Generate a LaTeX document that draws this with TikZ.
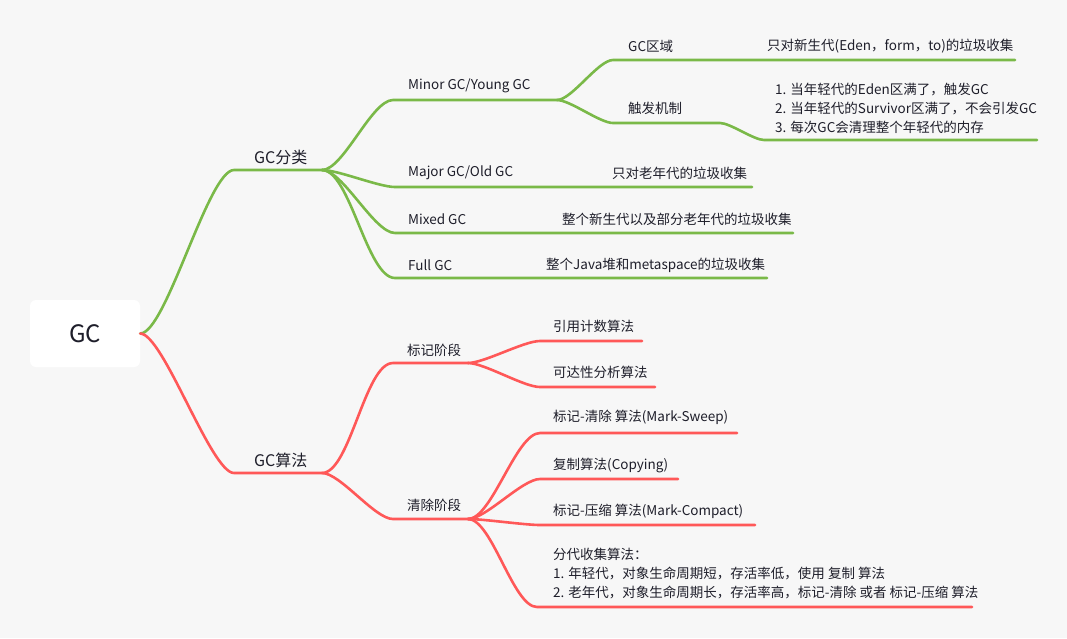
\documentclass[tikz,border=0pt]{standalone}
\usepackage{fontspec}
\setmainfont{Noto Sans CJK SC}
\definecolor{bg}{RGB}{247,247,247}
\definecolor{gbr}{RGB}{122,185,72}
\definecolor{rbr}{RGB}{255,88,88}
\definecolor{ink}{RGB}{30,30,42}
\begin{document}
\begin{tikzpicture}[x=1pt,y=-1pt,
  gline/.style={draw=gbr,line width=2.6pt,line cap=round},
  rline/.style={draw=rbr,line width=2.6pt,line cap=round},
  twig/.style={out=0,in=180,looseness=0.55},
  trunk/.style={out=0,in=180,looseness=0.35},
  lbl/.style={anchor=west,inner sep=0pt,text=ink,font=\fontsize{13.5}{19}\selectfont},
  multi/.style={lbl,align=left},
  mainlbl/.style={anchor=west,inner sep=0pt,text=ink,font=\fontsize{16}{19}\selectfont},
  rootbox/.style={fill=white,rounded corners=6pt,minimum width=110pt,minimum height=67pt,
    text=ink,font=\fontsize{24}{28}\selectfont}]
\useasboundingbox (0,0) rectangle (1067,638);
\fill[bg] (0,0) rectangle (1067,638);

% root
\node[rootbox] (root) at (85,333.5) {GC};

% underline end points of every topic
\coordinate (clsL) at (234,170);  \coordinate (clsR) at (322,170);
\coordinate (algL) at (234,473);  \coordinate (algR) at (322,473);
\coordinate (minL) at (393,100);  \coordinate (minR) at (557,100);
\coordinate (areaL) at (613,60);  \coordinate (areaR) at (700,60);
\coordinate (areaDL) at (752,60); \coordinate (areaDR) at (1015,60);
\coordinate (trigL) at (613,123); \coordinate (trigR) at (720,123);
\coordinate (trigDL) at (764,140);\coordinate (trigDR) at (1037,140);
\coordinate (majL) at (395,187);  \coordinate (majR) at (560,187);
\coordinate (majDL) at (598,187); \coordinate (majDR) at (752,187);
\coordinate (mixL) at (395,233);  \coordinate (mixR) at (540,233);
\coordinate (mixDL) at (550,233); \coordinate (mixDR) at (793,233);
\coordinate (fullL) at (395,278); \coordinate (fullR) at (520,278);
\coordinate (fullDL) at (535,278);\coordinate (fullDR) at (767,278);
\coordinate (markL) at (393,363); \coordinate (markR) at (468,363);
\coordinate (clrL) at (393,519);  \coordinate (clrR) at (468,519);
\coordinate (refL) at (540,341);  \coordinate (refR) at (642,341);
\coordinate (reaL) at (540,387);  \coordinate (reaR) at (655,387);
\coordinate (msL) at (540,433);   \coordinate (msR) at (737,433);
\coordinate (cpL) at (540,479);   \coordinate (cpR) at (678,479);
\coordinate (mcL) at (540,525);   \coordinate (mcR) at (755,525);
\coordinate (genL) at (537,607);  \coordinate (genR) at (972,607);

% green branch: GC分类
\draw[gline] (root.east) to[trunk] (clsL) -- (clsR);
\draw[gline] (clsR) to[twig] (minL) -- (minR);
\draw[gline] (minR) to[twig] (areaL) -- (areaR) -- (areaDL) -- (areaDR);
\draw[gline] (minR) to[twig] (trigL) -- (trigR) to[twig] (trigDL) -- (trigDR);
\draw[gline] (clsR) to[twig] (majL) -- (majR) -- (majDL) -- (majDR);
\draw[gline] (clsR) to[twig] (mixL) -- (mixR) -- (mixDL) -- (mixDR);
\draw[gline] (clsR) to[twig] (fullL) -- (fullR) -- (fullDL) -- (fullDR);

% red branch: GC算法
\draw[rline] (root.east) to[trunk] (algL) -- (algR);
\draw[rline] (algR) to[twig] (markL) -- (markR);
\draw[rline] (algR) to[twig] (clrL) -- (clrR);
\draw[rline] (markR) to[twig] (refL) -- (refR);
\draw[rline] (markR) to[twig] (reaL) -- (reaR);
\draw[rline] (clrR) to[twig] (msL) -- (msR);
\draw[rline] (clrR) to[twig] (cpL) -- (cpR);
\draw[rline] (clrR) to[twig] (mcL) -- (mcR);
\draw[rline] (clrR) to[twig] (genL) -- (genR);

% labels
\node[mainlbl] (cls) at (254,157) {GC分类};
\node[mainlbl] (alg) at (254,460) {GC算法};

\node[lbl] (minor) at (408,86) {Minor GC/Young GC};
\node[lbl] (area) at (628,46) {GC区域};
\node[lbl] (areaD) at (767,46) {只对新生代(Eden，form，to)的垃圾收集};
\node[lbl] (trig) at (628,108) {触发机制};
\node[multi] (trigD) at (775,108) {1. 当年轻代的Eden区满了，触发GC\\2. 当年轻代的Survivor区满了，不会引发GC\\3. 每次GC会清理整个年轻代的内存};
\node[lbl] (major) at (408,173) {Major GC/Old GC};
\node[lbl] (majorD) at (612,173) {只对老年代的垃圾收集};
\node[lbl] (mixed) at (408,219) {Mixed GC};
\node[lbl] (mixedD) at (562,219) {整个新生代以及部分老年代的垃圾收集};
\node[lbl] (full) at (408,265) {Full GC};
\node[lbl] (fullD) at (546,265) {整个Java堆和metaspace的垃圾收集};

\node[lbl] (mark) at (407,350) {标记阶段};
\node[lbl] (clear) at (407,505) {清除阶段};
\node[lbl] (ref) at (553,326) {引用计数算法};
\node[lbl] (reach) at (553,372) {可达性分析算法};
\node[lbl] (msw) at (553,417) {标记-清除 算法(Mark-Sweep)};
\node[lbl] (copy) at (553,465) {复制算法(Copying)};
\node[lbl] (mcp) at (553,511) {标记-压缩 算法(Mark-Compact)};
\node[multi] (gen) at (553,574) {分代收集算法：\\1. 年轻代，对象生命周期短，存活率低，使用 复制 算法\\2. 老年代，对象生命周期长，存活率高，标记-清除 或者 标记-压缩 算法};
\end{tikzpicture}
\end{document}
